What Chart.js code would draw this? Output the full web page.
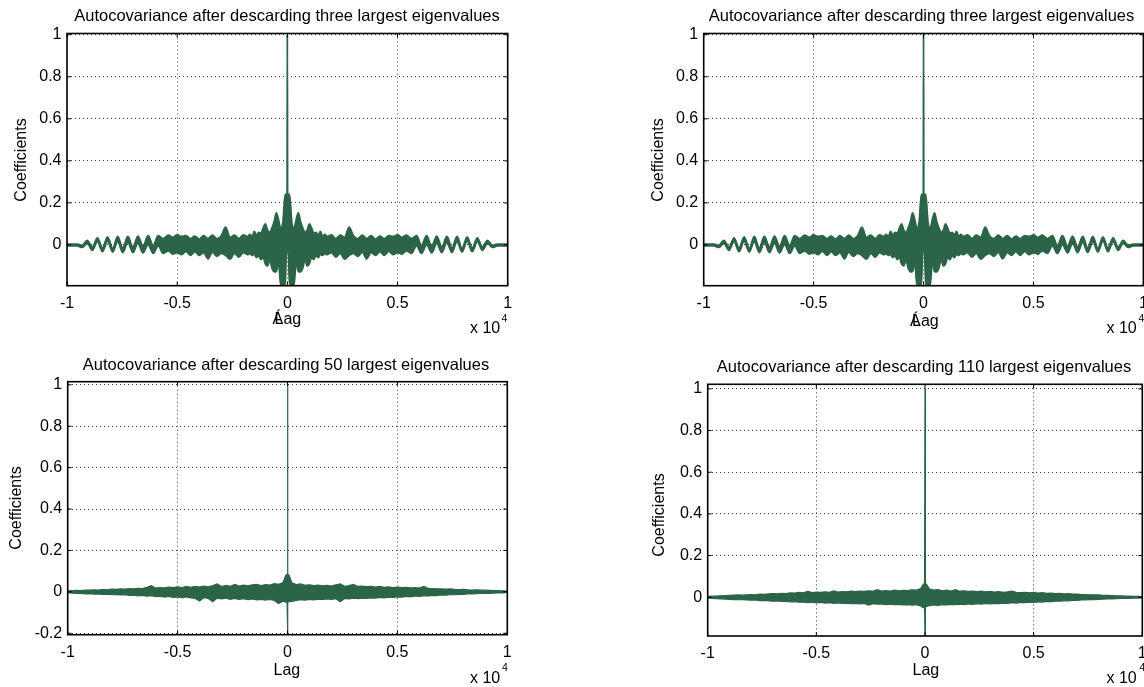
<!DOCTYPE html>
<html><head><meta charset="utf-8">
<script src="https://cdn.jsdelivr.net/npm/chart.js@4.4.1/dist/chart.umd.min.js"></script>
<style>
html,body{margin:0;padding:0;background:#fff;}
#wrap{position:relative;width:1144px;height:687px;overflow:hidden;background:#fff;}
canvas{position:absolute;left:0;top:0;}
</style></head><body><div id="wrap">
<canvas id="c1" width="1144" height="687"></canvas>
<canvas id="c2" width="1144" height="687"></canvas>
<canvas id="c3" width="1144" height="687"></canvas>
<canvas id="c4" width="1144" height="687"></canvas>
</div>
<script>
// ---------- data (lag in units of 10^4) ----------
const lagsTop = [-1,-0.977,-0.954,-0.931,-0.908,-0.885,-0.862,-0.839,-0.816,-0.793,-0.77,-0.747,-0.724,-0.701,-0.678,-0.655,-0.632,-0.609,-0.586,-0.563,-0.54,
-0.52,-0.5,-0.48,-0.46,-0.44,-0.42,-0.4,-0.38,-0.36,-0.34,-0.32,-0.3,-0.28,-0.26,-0.24,-0.22,-0.2,-0.18,
-0.17,-0.16,-0.15,-0.14,-0.13,-0.12,-0.11,-0.1,-0.09,-0.08,-0.07,-0.06,-0.05,-0.04,-0.03,-0.02,-0.01,
-0.004,-0.001,0,0.001,0.004,
0.01,0.02,0.03,0.04,0.05,0.06,0.07,0.08,0.09,0.1,0.11,0.12,0.13,0.14,0.15,0.16,0.17,
0.18,0.2,0.22,0.24,0.26,0.28,0.3,0.32,0.34,0.36,0.38,0.4,0.42,0.44,0.46,0.48,0.5,0.52,
0.54,0.563,0.586,0.609,0.632,0.655,0.678,0.701,0.724,0.747,0.77,0.793,0.816,0.839,0.862,0.885,0.908,0.931,0.954,0.977,1];

const upperTop = [0.004,0.004,0.004,-0.002,0.022,-0.010,0.034,-0.014,0.038,-0.016,0.040,-0.014,0.040,-0.010,0.042,-0.006,0.044,-0.002,0.044,0.030,0.046,
0.036,0.048,0.040,0.044,0.030,0.042,0.028,0.044,0.030,0.046,0.030,0.044,0.084,0.036,0.046,0.030,0.048,0.040,
0.050,0.040,0.064,0.046,0.060,0.056,0.080,0.100,0.070,0.060,0.080,0.110,0.152,0.120,0.080,0.110,0.240,
0.240,0.240,1.0,0.240,0.240,
0.240,0.110,0.080,0.120,0.152,0.110,0.080,0.060,0.070,0.100,0.080,0.056,0.060,0.046,0.064,0.040,0.050,
0.040,0.048,0.030,0.046,0.036,0.084,0.044,0.030,0.046,0.030,0.044,0.028,0.042,0.030,0.044,0.040,0.048,0.036,
0.046,0.030,0.044,-0.002,0.044,-0.006,0.042,-0.010,0.040,-0.014,0.040,-0.016,0.038,-0.014,0.034,-0.010,0.022,-0.002,0.004,0.004,0.004];

const lowerTop = [-0.004,-0.004,-0.004,-0.012,0.008,-0.026,0.016,-0.032,0.018,-0.034,0.016,-0.036,0.012,-0.036,0.008,-0.038,0.002,-0.040,-0.004,-0.040,-0.028,
-0.044,-0.036,-0.046,-0.030,-0.050,-0.032,-0.050,-0.036,-0.066,-0.034,-0.054,-0.040,-0.050,-0.068,-0.040,-0.058,-0.036,-0.046,
-0.040,-0.050,-0.044,-0.060,-0.050,-0.070,-0.060,-0.090,-0.100,-0.070,-0.110,-0.128,-0.126,-0.080,-0.193,-0.193,-0.193,
-0.030,-0.030,-0.030,-0.030,-0.030,
-0.193,-0.193,-0.193,-0.080,-0.126,-0.128,-0.110,-0.070,-0.100,-0.090,-0.060,-0.070,-0.050,-0.060,-0.044,-0.050,-0.040,
-0.046,-0.036,-0.058,-0.040,-0.068,-0.050,-0.040,-0.054,-0.034,-0.066,-0.036,-0.050,-0.032,-0.050,-0.030,-0.046,-0.036,-0.044,
-0.028,-0.040,-0.004,-0.040,0.002,-0.038,0.008,-0.036,0.012,-0.036,0.016,-0.034,0.018,-0.032,0.016,-0.026,0.008,-0.012,-0.004,-0.004,-0.004];

const lagsBottom = [-1,-0.98,-0.96,-0.94,-0.92,-0.9,-0.88,-0.86,-0.84,-0.82,-0.8,-0.78,-0.76,-0.74,-0.72,-0.7,-0.68,-0.66,-0.64,-0.62,-0.6,-0.58,-0.56,-0.54,-0.52,-0.5,-0.48,-0.46,-0.44,-0.42,-0.4,-0.38,-0.36,-0.34,-0.32,-0.3,-0.28,-0.26,-0.24,-0.22,-0.2,-0.18,-0.16,-0.14,-0.12,-0.1,-0.08,-0.06,-0.04,-0.02,
-0.008,-0.002,0,0.002,0.008,
0.02,0.04,0.06,0.08,0.1,0.12,0.14,0.16,0.18,0.2,0.22,0.24,0.26,0.28,0.3,0.32,0.34,0.36,0.38,0.4,0.42,0.44,0.46,0.48,0.5,0.52,0.54,0.56,0.58,0.6,0.62,0.64,0.66,0.68,0.7,0.72,0.74,0.76,0.78,0.8,0.82,0.84,0.86,0.88,0.9,0.92,0.94,0.96,0.98,1];

const upper50 = [0.004,0.006,0.007,0.006,0.009,0.008,0.010,0.009,0.011,0.010,0.013,0.012,0.014,0.013,0.016,0.014,0.017,0.016,0.022,0.030,0.018,0.021,0.019,0.023,0.020,0.024,0.021,0.026,0.022,0.027,0.023,0.028,0.024,0.030,0.038,0.026,0.031,0.027,0.036,0.028,0.032,0.029,0.034,0.036,0.030,0.035,0.033,0.040,0.036,0.045,
0.080,0.085,1.0,0.085,0.078,
0.044,0.035,0.038,0.032,0.034,0.030,0.033,0.029,0.031,0.028,0.034,0.038,0.027,0.030,0.036,0.026,0.028,0.025,0.027,0.023,0.026,0.022,0.024,0.021,0.023,0.020,0.022,0.019,0.021,0.018,0.026,0.017,0.016,0.015,0.014,0.013,0.014,0.012,0.011,0.012,0.010,0.009,0.010,0.008,0.008,0.007,0.006,0.006,0.005,0.003];

const lower50 = [-0.004,-0.006,-0.008,-0.007,-0.010,-0.009,-0.011,-0.010,-0.012,-0.011,-0.014,-0.013,-0.015,-0.014,-0.017,-0.016,-0.019,-0.017,-0.021,-0.019,-0.023,-0.021,-0.025,-0.022,-0.027,-0.024,-0.028,-0.025,-0.029,-0.032,-0.044,-0.028,-0.032,-0.048,-0.030,-0.034,-0.031,-0.036,-0.032,-0.037,-0.033,-0.038,-0.034,-0.039,-0.036,-0.040,-0.037,-0.042,-0.056,-0.045,
-0.050,-0.050,-0.207,-0.050,-0.048,
-0.046,-0.041,-0.038,-0.040,-0.036,-0.039,-0.035,-0.037,-0.034,-0.036,-0.033,-0.048,-0.032,-0.034,-0.031,-0.033,-0.030,-0.032,-0.029,-0.031,-0.027,-0.029,-0.026,-0.027,-0.024,-0.026,-0.022,-0.024,-0.020,-0.022,-0.019,-0.020,-0.017,-0.018,-0.015,-0.016,-0.013,-0.014,-0.012,-0.012,-0.010,-0.010,-0.009,-0.008,-0.007,-0.007,-0.006,-0.005,-0.005,-0.003];

const upper110 = [0.003,0.005,0.006,0.007,0.008,0.009,0.010,0.011,0.010,0.012,0.013,0.012,0.015,0.014,0.016,0.018,0.016,0.019,0.018,0.021,0.020,0.023,0.021,0.028,0.022,0.025,0.023,0.026,0.024,0.030,0.025,0.027,0.026,0.029,0.027,0.030,0.028,0.031,0.029,0.036,0.030,0.032,0.030,0.034,0.031,0.033,0.032,0.036,0.034,0.042,
0.062,0.066,1.0,0.066,0.060,
0.040,0.034,0.037,0.031,0.034,0.030,0.036,0.029,0.031,0.028,0.030,0.027,0.029,0.026,0.028,0.025,0.027,0.024,0.026,0.030,0.024,0.022,0.024,0.021,0.023,0.020,0.022,0.019,0.020,0.018,0.019,0.016,0.017,0.015,0.015,0.013,0.013,0.012,0.011,0.011,0.009,0.009,0.008,0.007,0.007,0.006,0.005,0.004,0.004,0.003];

const lower110 = [-0.003,-0.005,-0.007,-0.008,-0.009,-0.010,-0.011,-0.012,-0.011,-0.013,-0.014,-0.013,-0.016,-0.015,-0.017,-0.019,-0.018,-0.020,-0.019,-0.022,-0.021,-0.024,-0.023,-0.026,-0.024,-0.027,-0.025,-0.028,-0.026,-0.029,-0.027,-0.030,-0.028,-0.031,-0.029,-0.032,-0.030,-0.038,-0.031,-0.033,-0.032,-0.035,-0.033,-0.036,-0.034,-0.037,-0.035,-0.038,-0.036,-0.042,
-0.050,-0.045,-0.186,-0.045,-0.044,
-0.040,-0.037,-0.039,-0.035,-0.037,-0.034,-0.036,-0.033,-0.035,-0.032,-0.034,-0.031,-0.033,-0.030,-0.032,-0.029,-0.031,-0.028,-0.029,-0.026,-0.028,-0.025,-0.026,-0.023,-0.025,-0.022,-0.023,-0.020,-0.021,-0.019,-0.019,-0.017,-0.017,-0.015,-0.015,-0.013,-0.013,-0.011,-0.011,-0.010,-0.009,-0.008,-0.008,-0.007,-0.006,-0.006,-0.005,-0.004,-0.004,-0.003];

const xTickValues = [-1,-0.5,0,0.5,1];
const yTicksTop = [0,0.2,0.4,0.6,0.8,1];
const yTicks50 = [-0.2,0,0.2,0.4,0.6,0.8,1];
const yTicks110 = [0,0.2,0.4,0.6,0.8,1];

const titleThree = "Autocovariance after descarding three largest eigenvalues";
const title50 = "Autocovariance after descarding 50 largest eigenvalues";
const title110 = "Autocovariance after descarding 110 largest eigenvalues";
const yAxisLabel = "Coefficients";
const xAxisLabel = "Lag";
const exponentBase = "x 10";
const exponentPower = "4";

// ---------- layout / styles ----------
const GREEN = '#2c6448';
const FONT = '"Liberation Sans", Arial, Helvetica, sans-serif';

const panels = [
  {id:'c1', lags:lagsTop, up:upperTop, lo:lowerTop, yt:yTicksTop, ymin:-0.194, ymax:1.006, smooth:true,
   area:{l:67, r:507.7, t:33.5, b:285.7}, title:titleThree, titleX:287, titleY:21,
   ylabX:21.7, ylabY:160, xlabLeft:274.5, xlabY:323.5, accent:true, expX:470, expY:333.3, powX:501.5, powY:322},
  {id:'c2', lags:lagsTop, up:upperTop, lo:lowerTop, yt:yTicksTop, ymin:-0.194, ymax:1.006, smooth:true,
   area:{l:703.7, r:1143.4, t:33.5, b:285.7}, title:titleThree, titleX:921.5, titleY:21,
   ylabX:659, ylabY:160, xlabLeft:912, xlabY:326, accent:true, expX:1106.5, expY:333.3, powX:1138.5, powY:322},
  {id:'c3', lags:lagsBottom, up:upper50, lo:lower50, yt:yTicks50, ymin:-0.207, ymax:1.015, smooth:false,
   area:{l:67.7, r:507.3, t:381.7, b:634.7}, title:title50, titleX:286, titleY:370,
   ylabX:16.7, ylabY:508, xlabLeft:273.5, xlabY:675, accent:false, expX:470, expY:683.3, powX:502, powY:671},
  {id:'c4', lags:lagsBottom, up:upper110, lo:lower110, yt:yTicks110, ymin:-0.186, ymax:1.022, smooth:false,
   area:{l:707.7, r:1142.3, t:384.3, b:636}, title:title110, titleX:924, titleY:372.3,
   ylabX:660, ylabY:515, xlabLeft:912.5, xlabY:675, accent:false, expX:1106.5, expY:683.3, powX:1139.5, powY:671}
];

const Y_AXIS_W = 50, X_AXIS_H = 30;

function makeDecor(p) {
  return {
    id: 'decor_' + p.id,
    afterDatasetsDraw(chart) {
      const ctx = chart.ctx, a = chart.chartArea;
      const xs = chart.scales.x, ys = chart.scales.y;
      ctx.save();
      ctx.strokeStyle = '#000';
      ctx.lineWidth = 1;
      ctx.beginPath();
      xs.ticks.forEach(t => {
        const X = xs.getPixelForValue(t.value);
        ctx.moveTo(X, a.bottom); ctx.lineTo(X, a.bottom - 4);
        ctx.moveTo(X, a.top); ctx.lineTo(X, a.top + 4);
      });
      ys.ticks.forEach(t => {
        const Y = ys.getPixelForValue(t.value);
        ctx.moveTo(a.left, Y); ctx.lineTo(a.left + 4, Y);
        ctx.moveTo(a.right, Y); ctx.lineTo(a.right - 4, Y);
      });
      ctx.stroke();
      ctx.lineWidth = 1.6;
      ctx.strokeRect(a.left, a.top, a.right - a.left, a.bottom - a.top);

      ctx.fillStyle = '#000';
      ctx.textBaseline = 'alphabetic';
      ctx.font = '16.5px ' + FONT;
      ctx.textAlign = 'center';
      ctx.fillText(p.title, p.titleX, p.titleY);
      ctx.font = '16px ' + FONT;
      ctx.textAlign = 'left';
      ctx.fillText(xAxisLabel, p.xlabLeft, p.xlabY);
      if (p.accent) ctx.fillText('\u00C1', p.xlabLeft - 2, p.xlabY);
      ctx.fillText(exponentBase, p.expX, p.expY);
      ctx.font = '10.5px ' + FONT;
      ctx.fillText(exponentPower, p.powX, p.powY);
      ctx.font = '16px ' + FONT;
      ctx.translate(p.ylabX, p.ylabY);
      ctx.rotate(-Math.PI / 2);
      ctx.textAlign = 'center';
      ctx.textBaseline = 'middle';
      ctx.fillText(yAxisLabel, 0, 0);
      ctx.restore();
    }
  };
}

panels.forEach(p => {
  const a = p.area;
  const lineOpts = p.smooth ? { cubicInterpolationMode: 'monotone', borderWidth: 1.8 } : { tension: 0, borderWidth: 1.2 };
  new Chart(document.getElementById(p.id), {
    type: 'line',
    data: {
      datasets: [
        Object.assign({ data: p.lags.map((x, i) => ({x: x, y: p.up[i]})), borderColor: GREEN, backgroundColor: GREEN,
          pointRadius: 0, fill: '+1' }, lineOpts),
        Object.assign({ data: p.lags.map((x, i) => ({x: x, y: p.lo[i]})), borderColor: GREEN, backgroundColor: GREEN,
          pointRadius: 0, fill: false }, lineOpts)
      ]
    },
    options: {
      responsive: false, animation: false, devicePixelRatio: 1,
      events: [],
      layout: { padding: { left: a.l - Y_AXIS_W, right: 1144 - a.r, top: a.t, bottom: 687 - a.b - X_AXIS_H } },
      plugins: { legend: { display: false }, title: { display: false }, tooltip: { enabled: false } },
      scales: {
        x: {
          type: 'linear', min: -1, max: 1,
          afterBuildTicks: s => { s.ticks = xTickValues.map(v => ({value: v})); },
          afterFit: s => { s.height = X_AXIS_H; s.paddingLeft = 0; s.paddingRight = 0; },
          ticks: { autoSkip: false, maxRotation: 0, padding: 8, color: '#000',
                   font: { family: FONT, size: 16 }, callback: v => String(v) },
          grid: { color: 'rgba(0,0,0,0.75)', lineWidth: 1, drawTicks: false },
          border: { display: false, dash: [1, 3] }
        },
        y: {
          type: 'linear', min: p.ymin, max: p.ymax,
          afterBuildTicks: s => { s.ticks = p.yt.map(v => ({value: v})); },
          afterFit: s => { s.width = Y_AXIS_W; s.paddingTop = 0; s.paddingBottom = 0; },
          ticks: { autoSkip: false, padding: 5.5, color: '#000',
                   font: { family: FONT, size: 16 }, callback: v => String(v) },
          grid: { color: 'rgba(0,0,0,0.75)', lineWidth: 1, drawTicks: false },
          border: { display: false, dash: [1, 3] }
        }
      }
    },
    plugins: [makeDecor(p)]
  });
});
</script>
</body></html>
